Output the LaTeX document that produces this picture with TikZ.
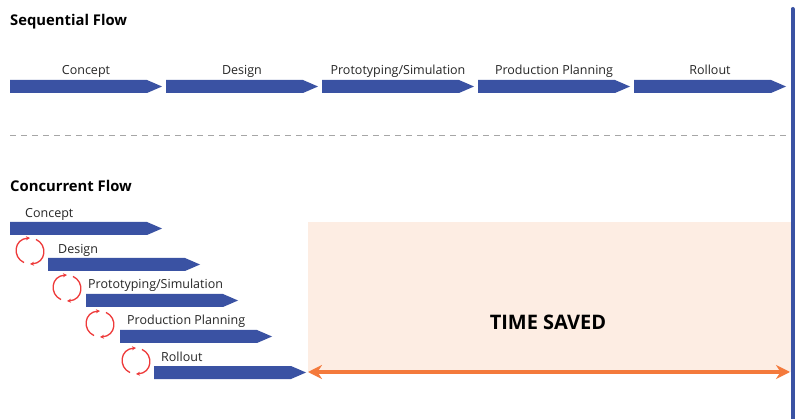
\documentclass[tikz,border=0pt]{standalone}
\usepackage{fontspec}
\setmainfont{Open Sans}
\usetikzlibrary{arrows.meta}
\definecolor{barblue}{HTML}{3A52A3}
\definecolor{orng}{HTML}{F47A3C}
\definecolor{peach}{HTML}{FDEDE3}
\definecolor{cycred}{HTML}{EE3A3A}
\begin{document}
\begin{tikzpicture}[x=1pt,y=-1pt,
  lbl/.style={font=\fontsize{12.5}{14}\selectfont,text=black!85,inner sep=0pt},
  ttl/.style={font=\bfseries\fontsize{14.8}{17}\selectfont,anchor=west,inner sep=0pt},
  cyc/.style={cycred,line width=1.3pt,-{Stealth[length=4pt,width=4pt]}}]
\useasboundingbox (0,0) rectangle (800,419);
\fill[white] (0,0) rectangle (800,419);
% shaded area
\fill[peach] (308,222) rectangle (791,372);
\node[font=\bfseries\fontsize{20}{24}\selectfont] (ts) at (548,322) {TIME SAVED};
% vertical bar
\draw[barblue,line width=4pt,line cap=round] (792.5,9) coordinate (vt) -- (792.5,425) coordinate (vb);
% titles
\node[ttl] (t1) at (10,22) {Sequential Flow};
\node[ttl] (t2) at (10,186) {Concurrent Flow};
% dashed line
\draw[gray!70,line width=1pt,dash pattern=on 6pt off 5pt] (10,136) coordinate (d1) -- (788,136) coordinate (d2);
% arrow macro
\newcommand{\flowarr}[4]{% x y width name
  \fill[barblue] (#1,#2) -- ++(#3-15,0) -- ++(15,6.5) -- ++(-15,6.5) -- ++(-#3+15,0) -- cycle;
  \coordinate (#4) at (#1+#3/2,#2);}
% sequential
\flowarr{10}{80}{152}{s1}
\flowarr{166}{80}{152}{s2}
\flowarr{322}{80}{152}{s3}
\flowarr{478}{80}{152}{s4}
\flowarr{634}{80}{152}{s5}
\node[lbl,anchor=base] at (86,75) {Concept};
\node[lbl,anchor=base] at (242,75) {Design};
\node[lbl,anchor=base] at (398,75) {Prototyping/Simulation};
\node[lbl,anchor=base] at (554,75) {Production Planning};
\node[lbl,anchor=base] at (710,75) {Rollout};
% concurrent
\flowarr{10}{222}{152}{c1}
\flowarr{48}{258}{152}{c2}
\flowarr{86}{294}{152}{c3}
\flowarr{120}{330}{152}{c4}
\flowarr{154}{366}{152}{c5}
\node[lbl,anchor=base west] at (25,218) {Concept};
\node[lbl,anchor=base west] at (58,254) {Design};
\node[lbl,anchor=base west] at (88,289) {Prototyping/Simulation};
\node[lbl,anchor=base west] at (127,325) {Production Planning};
\node[lbl,anchor=base west] at (161,361) {Rollout};
% cycles
\foreach \cx/\cy in {30/251,67/288,100/324,136/361}{
  \draw[cyc] (\cx-6,\cy+11.6) .. controls (\cx-18,\cy+6) and (\cx-16,\cy-12) .. (\cx,\cy-13);
  \draw[cyc] (\cx+6,\cy-11.6) .. controls (\cx+18,\cy-6) and (\cx+16,\cy+12) .. (\cx,\cy+13);
}
% time saved arrow
\coordinate (ta) at (308,372);
\coordinate (tb) at (790,372);
\draw[orng,line width=3.5pt,{Stealth[length=14pt,width=14pt]}-{Stealth[length=14pt,width=14pt]}] (ta) -- (tb);
\end{tikzpicture}
\end{document}
